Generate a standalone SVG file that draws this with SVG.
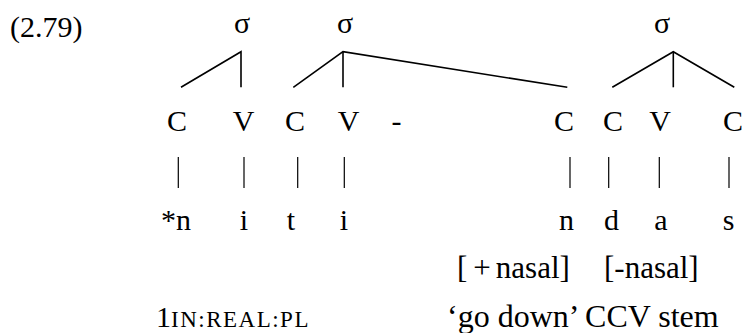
<svg xmlns="http://www.w3.org/2000/svg" width="747" height="333" viewBox="0 0 747 333">
<style>
text{font-family:"Liberation Serif","Times New Roman",serif;font-size:30px;fill:#000}
.m{text-anchor:middle}
.sc{font-size:23px;letter-spacing:1.5px}
.g{font-size:32px}
.f{font-size:31px}
#connectors line,#connectors polyline{stroke:#000;stroke-width:1.6;fill:none}
#connectors .bar{stroke-width:1.2}
</style>
<rect width="747" height="333" fill="#fff"/>
<text id="ex" x="10" y="37">(2.79)</text>
<g id="syl1"><text class="m" x="242" y="33">σ</text></g>
<g id="syl2"><text class="m" x="345" y="33">σ</text></g>
<g id="syl3"><text class="m" x="662" y="33">σ</text></g>
<g id="cv">
<text class="m" x="177" y="131">C</text>
<text class="m" x="243.5" y="131">V</text>
<text class="m" x="295" y="131">C</text>
<text class="m" x="348.5" y="131">V</text>
<text class="m" x="396.5" y="131">-</text>
<text class="m" x="564" y="131">C</text>
<text class="m" x="613" y="131">C</text>
<text class="m" x="660" y="131">V</text>
<text class="m" x="733" y="131">C</text>
</g>
<g id="seg">
<text x="161" y="230">*n</text>
<text class="m" x="244" y="230">i</text>
<text class="m" x="291" y="230">t</text>
<text class="m" x="344" y="230">i</text>
<text class="m" x="566.5" y="230">n</text>
<text class="m" x="611.5" y="230">d</text>
<text class="m" x="661" y="230">a</text>
<text class="m" x="728.5" y="230">s</text>
</g>
<g id="features">
<text class="f" x="457" y="278">[<tspan dx="6">+</tspan><tspan dx="5">nasal]</tspan></text>
<text class="f" x="604" y="278">[-nasal]</text>
</g>
<g id="gloss">
<text x="156" y="327">1<tspan class="sc">IN:REAL:PL</tspan></text>
<text class="g" x="447" y="327">‘go down’ CCV stem</text>
</g>
<g id="connectors">
<polyline points="181,87.3 241,51.7 241,87.3"/>
<polyline points="293.3,87.3 343,51.7 567.3,87.3"/>
<line x1="343" y1="51.7" x2="343" y2="87.3"/>
<polyline points="612.3,87.3 673.3,51.7 734.3,87.3"/>
<line x1="673.3" y1="51.7" x2="673.3" y2="87.3"/>
<line class="bar" x1="178.3" y1="157" x2="178.3" y2="188"/>
<line class="bar" x1="244" y1="157" x2="244" y2="188"/>
<line class="bar" x1="297.7" y1="157" x2="297.7" y2="188"/>
<line class="bar" x1="344.3" y1="157" x2="344.3" y2="188"/>
<line class="bar" x1="570" y1="157" x2="570" y2="188"/>
<line class="bar" x1="608.7" y1="157" x2="608.7" y2="188"/>
<line class="bar" x1="659.3" y1="157" x2="659.3" y2="188"/>
<line class="bar" x1="729" y1="157" x2="729" y2="188"/>
</g>
</svg>
